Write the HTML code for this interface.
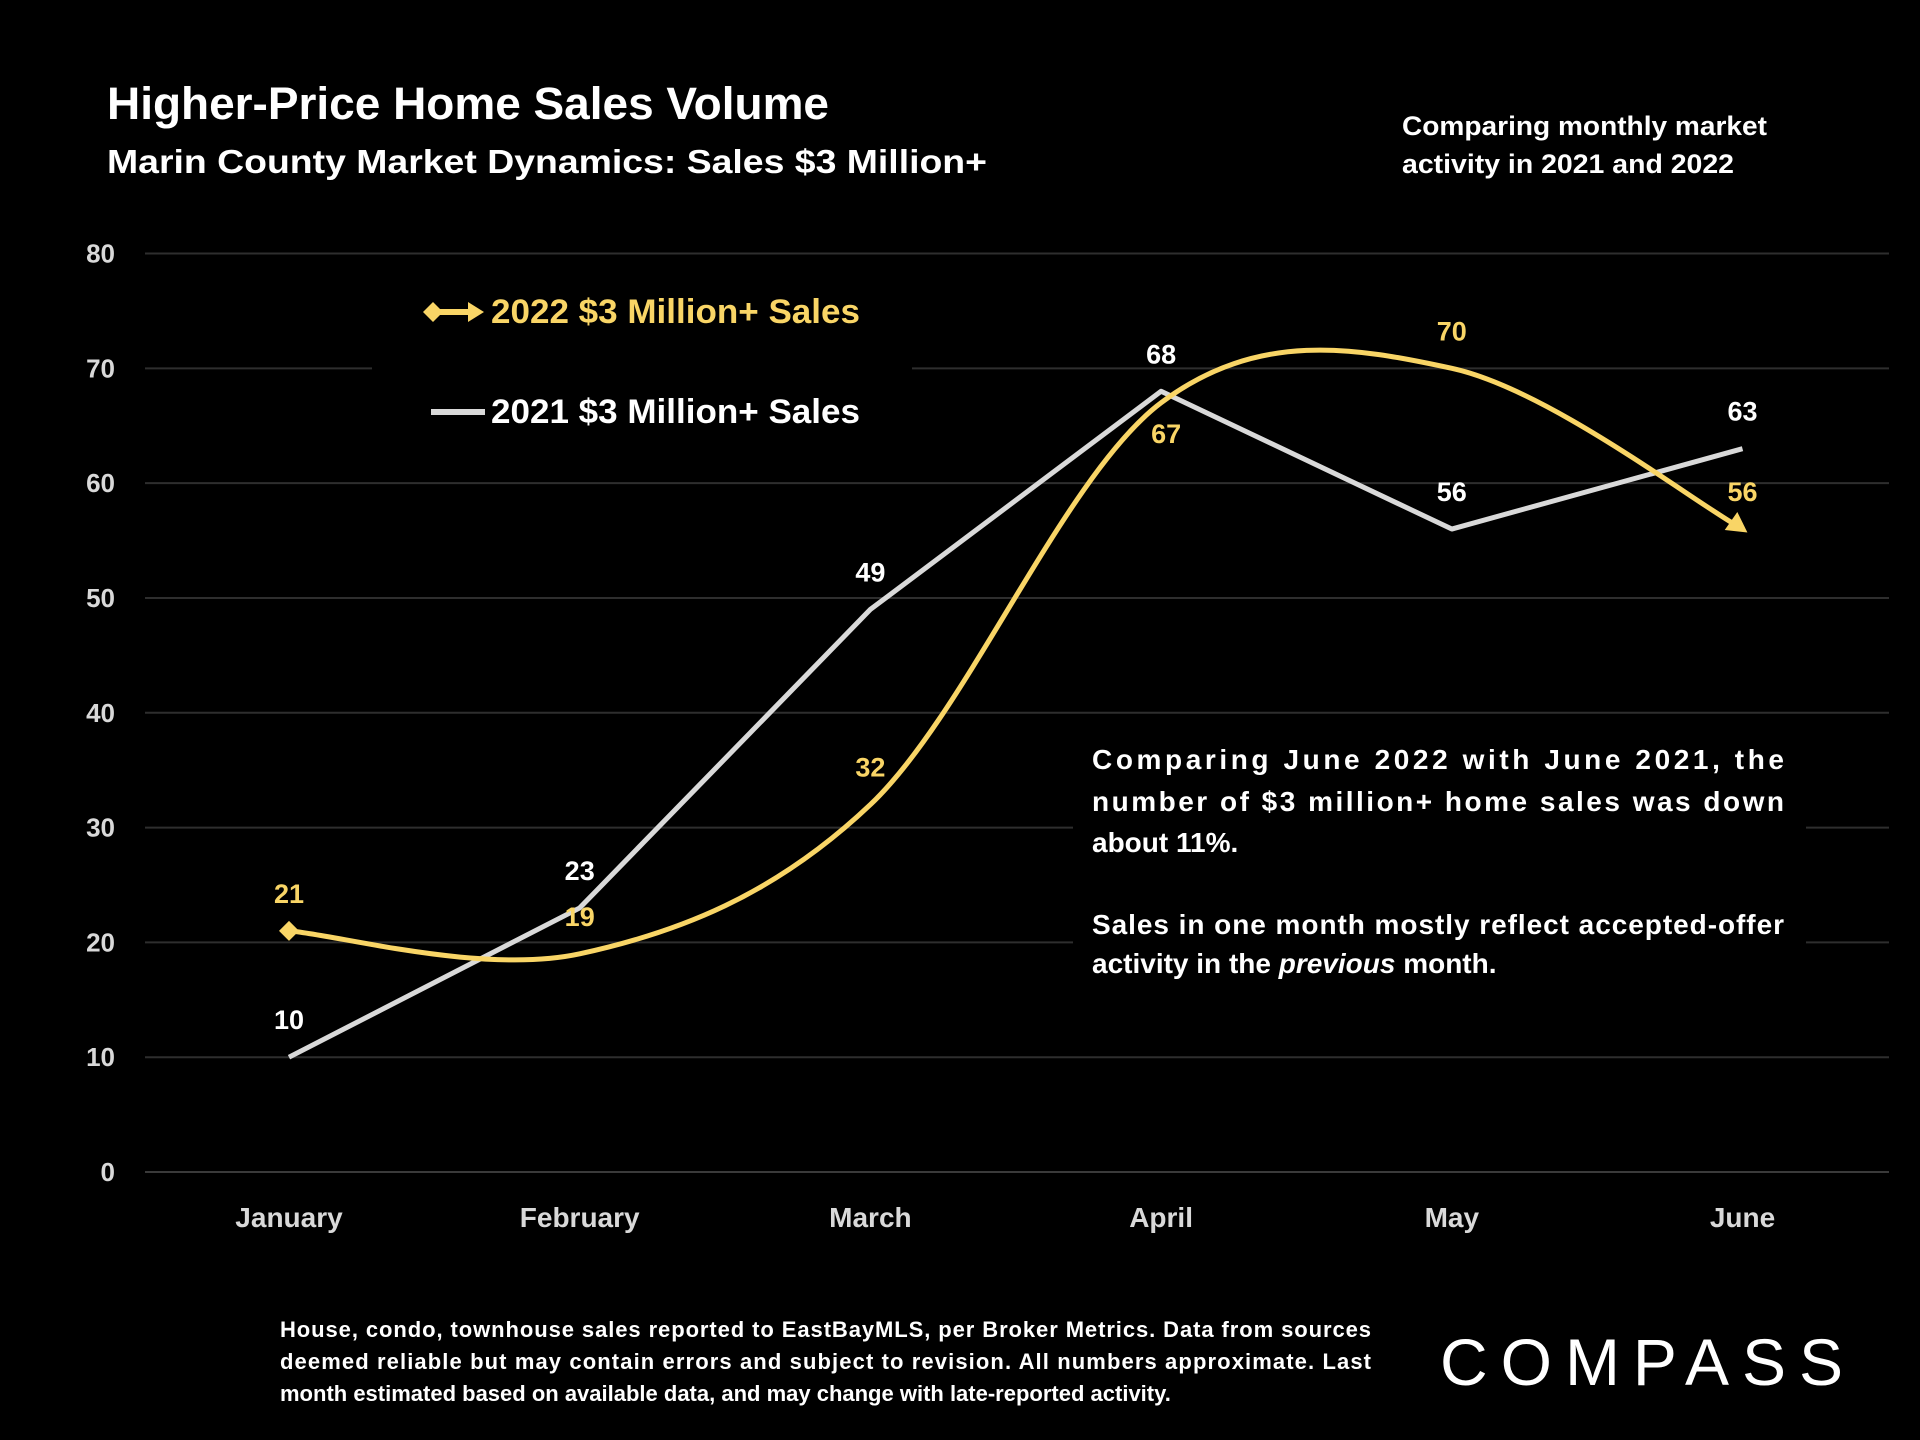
<!DOCTYPE html>
<html><head><meta charset="utf-8"><style>
html,body{margin:0;padding:0;background:#000;}
svg{display:block;}
text{font-family:"Liberation Sans",sans-serif;font-weight:bold;}
</style></head><body>
<svg id="chart" width="1920" height="1440" viewBox="0 0 1920 1440">
<rect width="1920" height="1440" fill="#000"/>
<text x="107" y="119" fill="#fff" font-size="45" textLength="722" lengthAdjust="spacingAndGlyphs">Higher-Price Home Sales Volume</text>
<text x="107" y="173" fill="#fff" font-size="33" textLength="880" lengthAdjust="spacingAndGlyphs">Marin County Market Dynamics: Sales $3 Million+</text>
<text fill="#fff" font-size="27"><tspan x="1402" y="135" textLength="365" lengthAdjust="spacingAndGlyphs">Comparing monthly market</tspan><tspan x="1402" y="173" textLength="332" lengthAdjust="spacingAndGlyphs">activity in 2021 and 2022</tspan></text>
<g id="grid"></g>
<g id="yticks"></g>
<g id="xticks"></g>
<rect x="372" y="285" width="540" height="160" fill="#000"/>
<rect x="1073" y="730" width="733" height="260" fill="#000"/>
<g id="series"></g>
<g>
<g>
<line x1="432" y1="312" x2="474" y2="312" stroke="#f9d566" stroke-width="6"/>
<path d="M423 312 L433 302 L443 312 L433 322 Z" fill="#f9d566"/>
<path d="M468 302 L484 312 L468 322 Z" fill="#f9d566"/>
<text x="491" y="323" fill="#f9d566" font-size="34" textLength="369" lengthAdjust="spacingAndGlyphs">2022 $3 Million+ Sales</text>
</g>
<g>
<line x1="431" y1="412" x2="485" y2="412" stroke="#d9d9d9" stroke-width="6"/>
<text x="491" y="423" fill="#fff" font-size="34" textLength="369" lengthAdjust="spacingAndGlyphs">2021 $3 Million+ Sales</text>
</g>
</g>
<g fill="#fff" font-size="28">
<text x="1092" y="769" textLength="692" lengthAdjust="spacing">Comparing June 2022 with June 2021, the</text>
<text x="1092" y="811" textLength="692" lengthAdjust="spacing">number of $3 million+ home sales was down</text>
<text x="1092" y="852">about 11%.</text>
<text x="1092" y="934" textLength="692" lengthAdjust="spacing">Sales in one month mostly reflect accepted-offer</text>
<text x="1092" y="973">activity in the <tspan font-style="italic">previous</tspan> month.</text>
</g>
<g fill="#fff" font-size="22">
<text x="280" y="1337" textLength="1091" lengthAdjust="spacing">House, condo, townhouse sales reported to EastBayMLS, per Broker Metrics. Data from sources</text>
<text x="280" y="1369" textLength="1091" lengthAdjust="spacing">deemed reliable but may contain errors and subject to revision. All numbers approximate. Last</text>
<text x="280" y="1401">month estimated based on available data, and may change with late-reported activity.</text>
</g>
<g>
<text x="1440" y="1385" fill="#fff" font-size="66" style="font-weight:normal" textLength="403" lengthAdjust="spacing">COMPASS</text>
</g>
</svg>
<script>
const months = ["January","February","March","April","May","June"];
const sales2022 = [21,19,32,67,70,56];
const sales2021 = [10,23,49,68,56,63];
const yTicks = [0,10,20,30,40,50,60,70,80];
const NS="http://www.w3.org/2000/svg";
const x0=289, x1=1742.5, yTop=253.5, yBot=1172, yMax=80;
function xs(i){return x0+(x1-x0)*i/(months.length-1);}
function ys(v){return yBot-(yBot-yTop)*v/yMax;}
function mk(tag,attrs,parent){const e=document.createElementNS(NS,tag);for(const k in attrs)e.setAttribute(k,attrs[k]);parent.appendChild(e);return e;}
const grid=document.getElementById('grid'), yt=document.getElementById('yticks'), xt=document.getElementById('xticks'), ser=document.getElementById('series');
yTicks.forEach(v=>{
  const l=mk('line',{x1:145,x2:1889,y1:ys(v),y2:ys(v),stroke:v===0?'#3a3a3a':'#2e2e2e','stroke-width':2},grid);
  
  
  const t=mk('text',{x:115,y:ys(v)+9,fill:'#d9d9d9','font-size':26,'text-anchor':'end'},yt);
  t.textContent=v;
  
  
});
months.forEach((m,i)=>{
  const t=mk('text',{x:xs(i),y:1227,fill:'#d9d9d9','font-size':28,'text-anchor':'middle'},xt);
  t.textContent=m;
  
  
});
const p21=sales2021.map((v,i)=>[xs(i),ys(v)]);
const l21=mk('polyline',{points:p21.map(p=>p.join(',')).join(' '),fill:'none',stroke:'#d9d9d9','stroke-width':5,'stroke-linejoin':'round'},ser);


const p22=sales2022.map((v,i)=>[xs(i),ys(v)]);
let d='M'+p22[0].join(' ');
const tn=1/6;
for(let i=0;i<p22.length-1;i++){
  const p0=p22[Math.max(0,i-1)],p1=p22[i],p2=p22[i+1],p3=p22[Math.min(p22.length-1,i+2)];
  const c1=[p1[0]+(p2[0]-p0[0])*tn, p1[1]+(p2[1]-p0[1])*tn];
  const c2=[p2[0]-(p3[0]-p1[0])*tn, p2[1]-(p3[1]-p1[1])*tn];
  d+=` C${c1[0]} ${c1[1]} ${c2[0]} ${c2[1]} ${p2[0]} ${p2[1]}`;
}
const l22=mk('path',{d:d,fill:'none',stroke:'#f9d566','stroke-width':5},ser);


const s=p22[0];
const dm=mk('path',{d:`M${s[0]-10} ${s[1]} L${s[0]} ${s[1]-10} L${s[0]+10} ${s[1]} L${s[0]} ${s[1]+10} Z`,fill:'#f9d566'},ser);


const e=p22[p22.length-1];
const ar=mk('path',{d:`M${e[0]+6} ${e[1]} L${e[0]-14} ${e[1]-11} L${e[0]-14} ${e[1]+11} Z`,fill:'#f9d566',transform:`rotate(35 ${e[0]} ${e[1]})`},ser);


sales2021.forEach((v,i)=>{
  const t=mk('text',{x:xs(i),y:ys(v)-28,fill:'#fff','font-size':27,'text-anchor':'middle'},ser);
  t.textContent=v;
  
  
});
sales2022.forEach((v,i)=>{
  const below = i===3;
  const dx = i===3?5:0;
  const t=mk('text',{x:xs(i)+dx,y:below?ys(v)+40:ys(v)-28,fill:'#f9d566','font-size':27,'text-anchor':'middle'},ser);
  t.textContent=v;
  
  
});
</script>
</body></html>
